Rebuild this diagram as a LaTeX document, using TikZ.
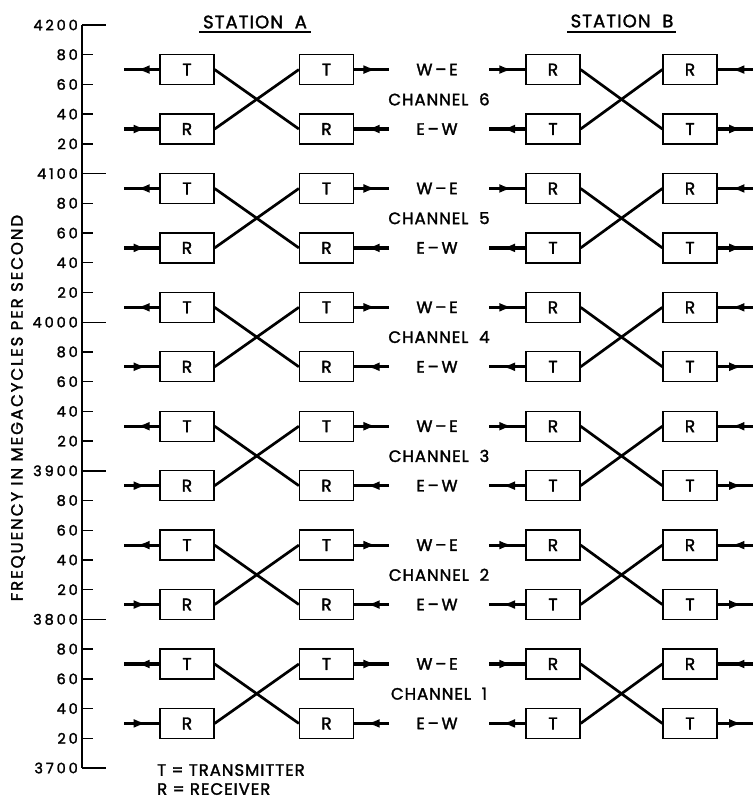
\documentclass[tikz,border=0pt]{standalone}
\usepackage{fontspec}
\setmainfont{Poppins}
\newfontfamily\letfont[LetterSpace=6,FakeBold=1.8]{Poppins}
\newfontfamily\widefont[LetterSpace=12,FakeBold=1.8]{Poppins}
\newfontfamily\numfont[LetterSpace=20,FakeBold=1.8]{Poppins}
\usetikzlibrary{arrows.meta,decorations.markings}
\begin{document}
\begin{tikzpicture}[x=1pt,y=-1pt,
  box/.style={draw,line width=1.3pt,minimum width=54pt,minimum height=30pt,inner sep=0pt,font=\letfont\fontsize{17}{17}\selectfont},
  sig/.style={line width=3.2pt,postaction={decorate},decoration={markings,mark=at position 0.64 with {\arrow{Latex[length=13pt,width=9pt]}}}},
  crossline/.style={line width=2.7pt},
  lab/.style={inner sep=0pt,font=\letfont\fontsize{16.5}{16.5}\selectfont},
  ticklab/.style={anchor=east,inner sep=0pt,font=\numfont\fontsize{14.5}{14.5}\selectfont},
  axisline/.style={line width=1.4pt},
  title/.style={inner sep=0pt,font=\letfont\fontsize{18}{18}\selectfont}]
\useasboundingbox[fill=white] (0,0) rectangle (752,800);
% axis
\coordinate (atop) at (82,25);
\coordinate (abot) at (82,768);
\draw[axisline] (atop) -- (abot);
\foreach \f in {3700,3720,...,4200}{
  \pgfmathsetmacro\yy{25+(4200-\f)*1.486}
  \pgfmathtruncatemacro\rem{mod(\f,100)}
  \ifnum\rem=0
    \draw[axisline] (82,\yy) -- (106,\yy);
    \node[ticklab] (tl\f) at (78,\yy) {\f};
  \else
    \draw[axisline] (82,\yy) -- (93,\yy);
    \node[ticklab] (tl\f) at (78,\yy) {\rem};
  \fi
}
\node[inner sep=0pt,font=\widefont\fontsize{16.5}{16.5}\selectfont,rotate=90] (ylab) at (18,408) {FREQUENCY IN MEGACYCLES PER SECOND};
% titles
\node[title] (sa) at (255,22) {STATION\ \ A};
\draw[line width=1.5pt] (199,32) -- (311,32);
\node[title] (sb) at (622,21) {STATION\ \ B};
\draw[line width=1.5pt] (567,32) -- (676,32);
% channels
\foreach \k in {1,...,6}{
  \pgfmathsetmacro\yT{25+(30+80*(6-\k))*1.486}
  \pgfmathsetmacro\yR{\yT+40*1.486}
  \pgfmathsetmacro\yM{(\yT+\yR)/2}
  \node[box] (aLT\k) at (187,\yT) {T};
  \node[box] (aLR\k) at (187,\yR) {R};
  \node[box] (aRT\k) at (326.5,\yT) {T};
  \node[box] (aRR\k) at (326.5,\yR) {R};
  \node[box] (bLR\k) at (553,\yT) {R};
  \node[box] (bLT\k) at (553,\yR) {T};
  \node[box] (bRR\k) at (690,\yT) {R};
  \node[box] (bRT\k) at (690,\yR) {T};
  \coordinate (eaLT\k) at (124,\yT);
  \coordinate (eaLR\k) at (124,\yR);
  \coordinate (eaRT\k) at (389,\yT);
  \coordinate (eaRR\k) at (389,\yR);
  \coordinate (ebLR\k) at (489,\yT);
  \coordinate (ebLT\k) at (489,\yR);
  \coordinate (ebRR\k) at (756,\yT);
  \coordinate (ebRT\k) at (756,\yR);
  \draw[sig] (aLT\k.west) -- (eaLT\k);
  \draw[sig] (eaLR\k) -- (aLR\k.west);
  \draw[sig] (aRT\k.east) -- (eaRT\k);
  \draw[sig] (eaRR\k) -- (aRR\k.east);
  \draw[sig] (ebLR\k) -- (bLR\k.west);
  \draw[sig] (bLT\k.west) -- (ebLT\k);
  \draw[sig] (ebRR\k) -- (bRR\k.east);
  \draw[sig] (bRT\k.east) -- (ebRT\k);
  \draw[crossline] (aLT\k.east) -- (aRR\k.west);
  \draw[crossline] (aLR\k.east) -- (aRT\k.west);
  \draw[crossline] (bLR\k.east) -- (bRT\k.west);
  \draw[crossline] (bLT\k.east) -- (bRR\k.west);
  \node[lab] (we\k) at (437,\yT) {W\,–\,E};
  \node[lab] (ch\k) at (439,\yM) {CHANNEL\ \ \k};
  \node[lab] (ew\k) at (437,\yR) {E\,–\,W};
}
% legend
\node[lab,anchor=west] (lt) at (157,770) {T = TRANSMITTER};
\node[lab,anchor=west] (lr) at (157,789) {R = RECEIVER};
\end{tikzpicture}
\end{document}
